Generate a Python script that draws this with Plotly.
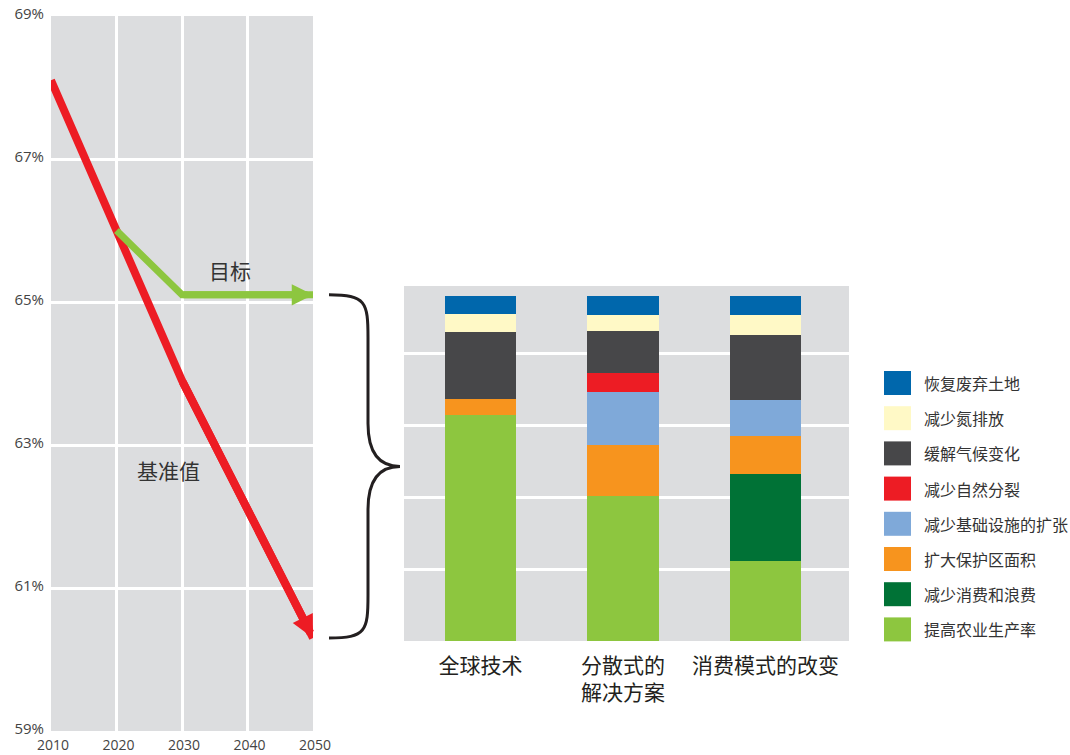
"""
Землепользование: базовый сценарий против целевого и вклад мер (plotly).
"""
import plotly.graph_objects as go

# --- левый график: доля, %
years_base = [2010, 2020, 2030, 2050]
baseline = [68.1, 66.0, 63.9, 60.3]
years_target = [2020, 2030, 2050]
target = [66.0, 65.1, 65.1]
year_ticks = [2010, 2020, 2030, 2040, 2050]
pct_ticks = [59, 61, 63, 65, 67, 69]
pct_labels = ['59%', '61%', '63%', '65%', '67%', '69%']

# --- правый график: вклад мер, п.п.
scenarios = ['全球技术', '分散式的<br>解决方案', '消费模式的改变']
restore_land = [0.25, 0.26, 0.26]
reduce_nitrogen = [0.25, 0.22, 0.28]
climate = [0.93, 0.59, 0.91]
fragmentation = [0, 0.26, 0]
infrastructure = [0, 0.74, 0.50]
protected = [0.22, 0.71, 0.53]
consumption = [0, 0, 1.21]
productivity = [3.15, 2.02, 1.11]

measure_names = ['恢复废弃土地', '减少氮排放', '缓解气候变化', '减少自然分裂',
                 '减少基础设施的扩张', '扩大保护区面积', '减少消费和浪费', '提高农业生产率']
measure_values = [restore_land, reduce_nitrogen, climate, fragmentation,
                  infrastructure, protected, consumption, productivity]
measure_colors = ['#0067AC', '#FFF9C6', '#474749', '#ED1C24',
                  '#7FA9D9', '#F7941E', '#007236', '#8DC63F']

W, H = 1070, 755
FONT = 'Open Sans, Noto Sans CJK SC, sans-serif'
CJK = 'Noto Sans CJK SC, sans-serif'


def px_x(v):
    return v / W


def px_y(v):
    return 1 - v / H


def arrow_line(fig, xs, ys, color, width, head):
    """Линия по точкам, на последнем отрезке — стрелка (аннотация)."""
    fig.add_trace(go.Scatter(
        x=xs, y=ys, mode='lines', showlegend=False, hoverinfo='skip',
        line=dict(color=color, width=width, backoff=[0] * (len(xs) - 1) + [head]),
        xaxis='x', yaxis='y'))
    fig.add_annotation(
        x=xs[-1], y=ys[-1], ax=xs[-2], ay=ys[-2], xref='x', yref='y',
        axref='x', ayref='y', text='', showarrow=True, arrowhead=2,
        arrowsize=head / (5 * width) * 1.25, arrowwidth=width, arrowcolor=color,
        standoff=0)


fig = go.Figure()

arrow_line(fig, years_base, baseline, '#ED1C24', 8, 18)
arrow_line(fig, years_target, target, '#8DC63F', 7, 17)

# столбики (снизу вверх — обратный порядок легенды)
for name, vals, color in reversed(list(zip(measure_names, measure_values, measure_colors))):
    fig.add_trace(go.Bar(
        x=scenarios, y=vals, name=name, marker=dict(color=color, line=dict(width=0)),
        width=0.5, showlegend=False, xaxis='x2', yaxis='y2'))

# фигурная скобка от цели до базового значения
top, bot = target[-1], baseline[-1]
mid = (top + bot) / 2
x0, xv, xt = px_x(329), px_x(368), px_x(400)
brace = (f'M{x0},{top} C{xv - 0.002},{top} {xv},{top - 0.1} {xv},{top - 0.6} '
         f'L{xv},{mid + 0.6} C{xv},{mid + 0.2} {xv + 0.01},{mid} {xt},{mid} '
         f'C{xv + 0.01},{mid} {xv},{mid - 0.2} {xv},{mid - 0.6} '
         f'L{xv},{bot + 0.6} C{xv},{bot + 0.1} {xv - 0.002},{bot} {x0},{bot}')
fig.add_shape(type='path', path=brace, xref='paper', yref='y',
              line=dict(color='#231F20', width=3))

# подписи линий
fig.add_annotation(x=2037.3, y=65.45, text='目标', showarrow=False,
                   font=dict(family=CJK, size=21, color='#333'), xref='x', yref='y')
fig.add_annotation(x=2028, y=62.65, text='基准值', showarrow=False,
                   font=dict(family=CJK, size=21, color='#333'), xref='x', yref='y')

# легенда справа
for i, (name, color) in enumerate(zip(measure_names, measure_colors)):
    cy = 383 + i * 35.2
    fig.add_shape(type='rect', xref='paper', yref='paper',
                  x0=px_x(884), x1=px_x(911), y0=px_y(cy + 12), y1=px_y(cy - 12),
                  fillcolor=color, line=dict(width=0))
    fig.add_annotation(x=px_x(922), y=px_y(cy), text=name, showarrow=False,
                       xref='paper', yref='paper', xanchor='left', yanchor='middle',
                       font=dict(family=CJK, size=16, color='#333'))

fig.update_layout(
    width=W, height=H,
    margin=dict(l=0, r=0, t=0, b=0, autoexpand=False),
    paper_bgcolor='white', plot_bgcolor='#DCDDDF',
    barmode='stack', font=dict(family=FONT, color='#444'),
    xaxis=dict(domain=[px_x(51), px_x(313)], range=[2010, 2050], automargin=False,
               tickvals=year_ticks, showgrid=True, gridcolor='white', gridwidth=3,
               zeroline=False, showline=False, ticks='', ticklabelstandoff=4,
               ticklabelshift=2, tickfont=dict(size=14, color='#444')),
    yaxis=dict(domain=[px_y(731), px_y(16)], range=[59, 69], automargin=False,
               tickvals=pct_ticks, ticktext=pct_labels, showgrid=True,
               gridcolor='white', gridwidth=3, zeroline=False, showline=False,
               ticks='', ticklabelstandoff=6, ticklabelshift=-2,
               tickfont=dict(size=15, color='#444')),
    xaxis2=dict(domain=[px_x(404), px_x(849)], anchor='y2', range=[-0.537, 2.586],
                showgrid=False, zeroline=False, showline=False, ticks='',
                automargin=False, ticklabelstandoff=10,
                tickfont=dict(family=CJK, size=21, color='#231F20')),
    yaxis2=dict(domain=[px_y(641), px_y(286)], anchor='x2', range=[0, 4.94],
                dtick=1, showgrid=True, gridcolor='white', gridwidth=3,
                automargin=False, zeroline=False, showline=False,
                showticklabels=False),
)

# у body по умолчанию отступ 8px — убираем, чтобы график стоял в (0, 0)
fig.write_html('out.html', config={'displayModeBar': False},
               post_script="document.body.style.margin='0';")
